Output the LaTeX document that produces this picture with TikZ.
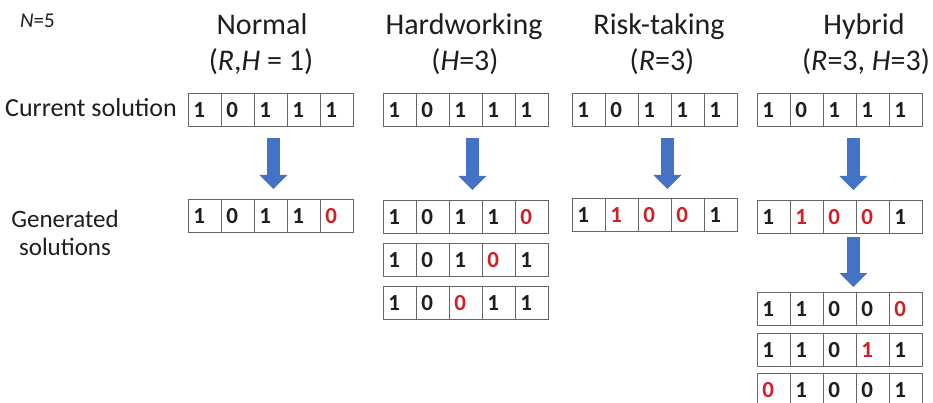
\documentclass[tikz,border=0pt]{standalone}
\usepackage{fontspec}
\setmainfont{Carlito}
\usetikzlibrary{arrows.meta,positioning,calc}
\definecolor{ink}{RGB}{30,30,30}
\definecolor{flipred}{RGB}{208,32,38}
\definecolor{arrowblue}{RGB}{68,114,196}
\newcommand{\flip}[1]{\textcolor{flipred}{#1}}

\begin{document}
\begin{tikzpicture}[x=1pt,y=-1pt,
title/.style = {anchor=base, text=ink, inner sep=0, font=\fontsize{30}{36}\selectfont},
side/.style = {anchor=base, text=ink, inner sep=0, font=\fontsize{25}{28}\selectfont},
cell/.style = {draw=black!60, line width=0.8pt, anchor=north west, minimum width=33pt, minimum height=33pt, inner xsep=5pt, inner ysep=0pt, text width=23pt, align=left, text=ink, font=\fontsize{23}{23}\selectfont\bfseries},
flow/.style = {draw=arrowblue, line width=13pt, -{Triangle[width=27pt,length=14pt]}},]
\useasboundingbox (0,0) rectangle (933,403);
\node (nval) at (20,28)[side,anchor=base west,font=\fontsize{21}{24}\selectfont] {\textit{N}=5};
\node (tnorm) at (262,35)[title] {Normal};
\node (pnorm) at (261,71)[title] {(\textit{R},\textit{H} = 1)};
\node (thard) at (464,35)[title] {Hardworking};
\node (phard) at (465,71)[title] {(\textit{H}=3)};
\node (trisk) at (659,35)[title] {Risk-taking};
\node (prisk) at (662,71)[title] {(\textit{R}=3)};
\node (thyb) at (864,35)[title] {Hybrid};
\node (phyb) at (866,71)[title] {(\textit{R}=3, \textit{H}=3)};
\node (cur) at (5,117)[side,anchor=base west,font=\fontsize{26}{28}\selectfont] {Current solution};
\node (gen1) at (65,227)[side] {Generated};
\node (gen2) at (65,255)[side] {solutions};
\foreach \row/\x/\y/\bits in {
  nc/188/93/{1,0,1,1,1}, ng/188/199/{1,0,1,1,\flip{0}},
  hc/383/93/{1,0,1,1,1}, hg1/383/200/{1,0,1,1,\flip{0}}, hg2/383/243/{1,0,1,\flip{0},1}, hg3/383/286/{1,0,\flip{0},1,1},
  rc/572/93/{1,0,1,1,1}, rg/572/198/{1,\flip{1},\flip{0},\flip{0},1},
  bc/757/93/{1,0,1,1,1}, bg/757/200/{1,\flip{1},\flip{0},\flip{0},1},
  bg1/757/292/{1,1,0,0,\flip{0}}, bg2/757/333/{1,1,0,\flip{1},1}, bg3/757/373/{\flip{0},1,0,0,1}}
  \foreach \b [count=\i] in \bits
    \node (\row-\i) at (\x+33*\i-33,\y)[cell] {\b};
\draw[flow] ([xshift=2.5pt,yshift=-11pt]nc-3.south) -- ([xshift=2.5pt,yshift=10pt]ng-3.north);
\draw[flow] ([xshift=6.5pt,yshift=-11pt]hc-3.south) -- ([xshift=6.5pt,yshift=10pt]hg1-3.north);
\draw[flow] ([xshift=12.5pt,yshift=-11pt]rc-3.south) -- ([xshift=12.5pt,yshift=9pt]rg-3.north);
\draw[flow] ([xshift=13.5pt,yshift=-11pt]bc-3.south) -- ([xshift=13.5pt,yshift=10pt]bg-3.north);
\draw[flow] ([xshift=13.5pt,yshift=-3pt]bg-3.south) -- ([xshift=13.5pt,yshift=5pt]bg1-3.north);
\end{tikzpicture}
\end{document}
